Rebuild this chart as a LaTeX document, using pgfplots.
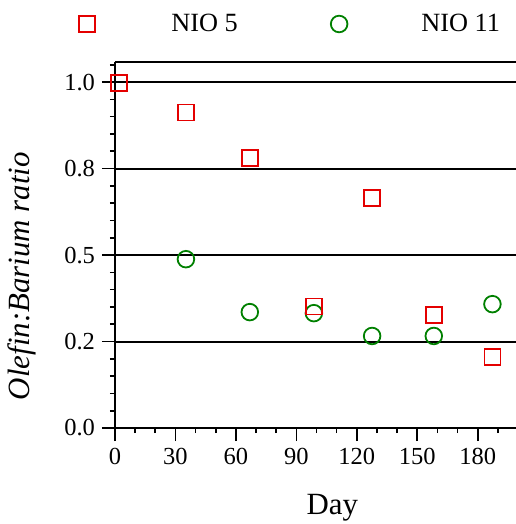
\documentclass[border=0pt]{standalone}
\usepackage{fontspec}
\setmainfont{Liberation Serif}
\usepackage{pgfplots}
\pgfplotsset{compat=1.18}
\usetikzlibrary{calc}
\definecolor{myred}{RGB}{228,0,0}
\definecolor{mygreen}{RGB}{0,128,0}
\begin{document}
\begin{tikzpicture}
\begin{axis}[
 scale only axis, width=200.5bp, height=183bp,
 xmin=0, xmax=199, ymin=0, ymax=1.058,
 axis x line*=bottom, axis y line*=left,
 axis line style={line width=1bp, -},
 tick align=outside,
 major tick length=6.5bp, minor tick length=2.5bp,
 every tick/.style={black, line width=0.8bp},
 xtick={0,30,...,180},
 minor xtick={10,20,40,50,70,80,100,110,130,140,160,170,190},
 ytick={0,0.25,0.5,0.75,1},
 yticklabels={0.0,0.2,0.5,0.8,1.0},
 minor ytick={0.05,0.1,0.15,0.2,0.3,0.35,0.4,0.45,0.55,0.6,0.65,0.7,0.8,0.85,0.9,0.95,1.05},
 ymajorgrids, major grid style={line width=1bp, black},
 extra y ticks={1.058}, extra y tick labels={},
 extra y tick style={grid=major, major tick length=0pt},
 ticklabel style={font=\fontsize{12.3}{14}\selectfont},
 /pgf/number format/assume math mode=true,
 xlabel={Day}, ylabel={\itshape Olefin:Barium ratio},
 label style={font=\fontsize{15.5}{18}\selectfont},
 xlabel style={at={(axis description cs:0.542,-0.219)}, anchor=center},
 ylabel style={at={(axis description cs:-0.232,0.415)}, anchor=center},
 legend columns=2,
 legend style={draw=none, fill=none, inner sep=0pt, at={(rel axis cs:0,1)}, anchor=west,
   xshift=-18bp, yshift=19bp, font=\fontsize{13.2}{16}\selectfont,
   /tikz/every odd column/.append style={column sep=29bp},
   /tikz/every even column/.append style={column sep=44.5bp}},
]
\addplot[only marks, mark=square, mark size=4bp, myred, line width=0.9bp] coordinates {
(2.1,0.997) (35.2,0.912) (66.9,0.781) (98.7,0.351) (127.6,0.666) (158.2,0.326) (187.3,0.205)};
\addlegendentry{\hspace*{7bp}NIO 5}
\addplot[only marks, mark=o, mark size=4.15bp, mygreen, line width=0.9bp] coordinates {
(35.2,0.488) (66.9,0.335) (98.7,0.332) (127.6,0.266) (158.2,0.266) (187.3,0.358)};
\addlegendentry{\hspace*{6bp}NIO 11}
\addplot[only marks, mark=square, mark size=4bp, myred, line width=0.9bp, forget plot] coordinates {
(2.1,0.997) (35.2,0.912) (66.9,0.781) (98.7,0.351) (127.6,0.666) (158.2,0.326) (187.3,0.205)};
\coordinate (ll) at (rel axis cs:0,0);
\coordinate (ur) at (rel axis cs:1,1);
\end{axis}
\pgfresetboundingbox
\path[use as bounding box] ($(ll)+(-57.5bp,-48bp)$) rectangle ($(ur)+(0,31bp)$);
\end{tikzpicture}
\end{document}
